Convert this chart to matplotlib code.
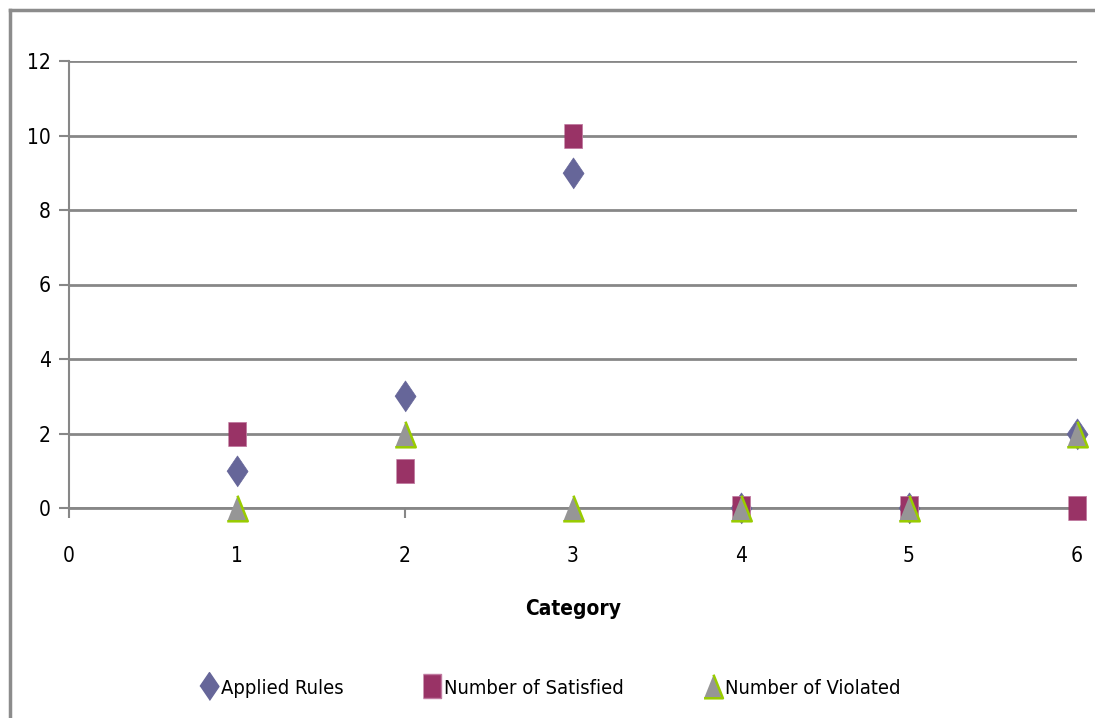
import matplotlib.pyplot as plt
from matplotlib.lines import Line2D

plt.rcParams['font.family'] = ['Liberation Sans Narrow', 'DejaVu Sans']
plt.rcParams['font.stretch'] = 'condensed'

categories = [1, 2, 3, 4, 5, 6]
applied_rules = [1, 3, 9, 0, 0, 2]
num_satisfied = [2, 1, 10, 0, 0, 0]
num_violated = [0, 2, 0, 0, 0, 2]

grid_color = '#878787'
diamond = [(0, -0.5), (0.34, 0), (0, 0.5), (-0.34, 0)]
rect = [(-0.38, -0.5), (0.38, -0.5), (0.38, 0.5), (-0.38, 0.5)]
tri = [(-0.4, -0.5), (0.4, -0.5), (0, 0.5)]

fig = plt.figure(figsize=(10.95, 7.18), dpi=100)
ax = fig.add_axes([69 / 1095, 1 - 508 / 718, (1077 - 69) / 1095, (508 - 61) / 718])

ax.scatter(categories, applied_rules, marker=diamond, s=500, color='#666699',
           edgecolors='#666699', linewidths=0.5, zorder=3, clip_on=False,
           label='Applied Rules')
ax.scatter(categories, num_satisfied, marker=rect, s=300, color='#993366',
           edgecolors='#c07aa0', linewidths=0.6, zorder=4, clip_on=False,
           label='Number of Satisfied')
ax.scatter(categories, num_violated, marker=tri, s=340, color='#969696',
           edgecolors='#99cc00', linewidths=1.8, zorder=5, clip_on=False,
           label='Number of Violated')

ax.set_xlim(0, 6)
ax.set_ylim(0, 12)
ax.set_xticks(range(0, 7))
ax.set_yticks(range(0, 13, 2))
ax.yaxis.grid(True, color=grid_color, linewidth=2)
ax.set_axisbelow(True)
for side in ['top', 'right']:
    ax.spines[side].set_visible(False)
ax.spines['left'].set_color(grid_color)
ax.spines['left'].set_linewidth(1.5)
ax.spines['bottom'].set_color(grid_color)
ax.spines['bottom'].set_linewidth(2)
ax.tick_params(axis='both', colors=grid_color, labelcolor='black', labelsize=15,
               length=7, width=1.5)
ax.tick_params(axis='x', pad=20)
ax.tick_params(axis='y', pad=6)
ax.set_xlabel('Category', fontsize=15, fontweight='bold', labelpad=24)

handles = [
    Line2D([], [], linestyle='none', marker=diamond, markersize=20,
           color='#666699'),
    Line2D([], [], linestyle='none', marker=rect, markersize=17,
           color='#993366', markeredgecolor='#c07aa0'),
    Line2D([], [], linestyle='none', marker=tri, markersize=17,
           color='#969696', markeredgecolor='#99cc00', markeredgewidth=1.8),
]
fig.legend(handles, ['Applied Rules', 'Number of Satisfied', 'Number of Violated'],
           loc='center', bbox_to_anchor=(0.502, 1 - 688 / 718), ncol=3,
           frameon=False, fontsize=14.5, handletextpad=0.1, columnspacing=3.9,
           handlelength=1.0)

# outer chart frame
fig.add_artist(Line2D([10 / 1095, 10 / 1095], [0, 1 - 10 / 718],
                      transform=fig.transFigure, color='#8c8c8c', linewidth=2.5))
fig.add_artist(Line2D([10 / 1095, 1], [1 - 10 / 718, 1 - 10 / 718],
                      transform=fig.transFigure, color='#8c8c8c', linewidth=2.5))

fig.savefig('out.png', dpi=100)
